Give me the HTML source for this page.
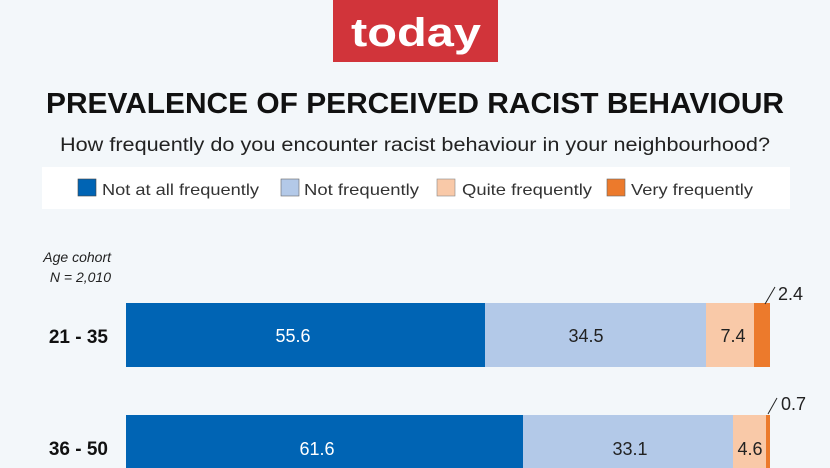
<!DOCTYPE html>
<html><head><meta charset="utf-8"><style>
html,body{margin:0;padding:0;background:#f3f7fa}
svg{display:block}
text{font-family:"Liberation Sans",sans-serif}
</style></head><body>
<svg width="830" height="468" viewBox="0 0 830 468">
<rect width="830" height="468" fill="#f3f7fa"/>
<rect x="333" y="0" width="165" height="62" fill="#d1343a"/>
<text x="416" y="46" text-anchor="middle" font-size="40" font-weight="bold" fill="#fff" textLength="130" lengthAdjust="spacingAndGlyphs">today</text>
<text x="415" y="113" text-anchor="middle" font-size="29" font-weight="bold" fill="#111" textLength="738" lengthAdjust="spacingAndGlyphs">PREVALENCE OF PERCEIVED RACIST BEHAVIOUR</text>
<text x="415" y="151" text-anchor="middle" font-size="19" fill="#222" textLength="710" lengthAdjust="spacingAndGlyphs">How frequently do you encounter racist behaviour in your neighbourhood?</text>
<rect x="42" y="167" width="748" height="42" fill="#fff"/>
<rect x="78" y="179" width="18" height="17" fill="#0064b4" stroke="#444" stroke-width="0.6"/>
<text x="102" y="195" font-size="16" fill="#333" textLength="157" lengthAdjust="spacingAndGlyphs">Not at all frequently</text>
<rect x="281" y="179" width="18" height="17" fill="#b3c9e8" stroke="#666" stroke-width="0.6"/>
<text x="304" y="195" font-size="16" fill="#333" textLength="115" lengthAdjust="spacingAndGlyphs">Not frequently</text>
<rect x="437" y="179" width="18" height="17" fill="#f9c9a8" stroke="#888" stroke-width="0.6"/>
<text x="462" y="195" font-size="16" fill="#333" textLength="130" lengthAdjust="spacingAndGlyphs">Quite frequently</text>
<rect x="607" y="179" width="18" height="17" fill="#ec7a2c" stroke="#666" stroke-width="0.6"/>
<text x="631" y="195" font-size="16" fill="#333" textLength="122" lengthAdjust="spacingAndGlyphs">Very frequently</text>
<text x="111" y="262" text-anchor="end" font-size="14" font-style="italic" fill="#222">Age cohort</text>
<text x="111" y="282" text-anchor="end" font-size="14" font-style="italic" fill="#222">N = 2,010</text>
<text x="108" y="343" text-anchor="end" font-size="19" font-weight="bold" fill="#111">21 - 35</text>
<text x="108" y="455" text-anchor="end" font-size="19" font-weight="bold" fill="#111">36 - 50</text>
<rect x="126" y="303" width="359" height="64" fill="#0064b4"/>
<rect x="485" y="303" width="221" height="64" fill="#b3c9e8"/>
<rect x="706" y="303" width="48" height="64" fill="#f9c9a8"/>
<rect x="754" y="303" width="16" height="64" fill="#ec7a2c"/>
<text x="293" y="342" text-anchor="middle" font-size="18" fill="#fff">55.6</text>
<text x="586" y="342" text-anchor="middle" font-size="18" fill="#222">34.5</text>
<text x="733" y="342" text-anchor="middle" font-size="18" fill="#222">7.4</text>
<line x1="765" y1="304" x2="775" y2="287" stroke="#222" stroke-width="1"/>
<text x="778" y="300" font-size="18" fill="#222">2.4</text>
<rect x="126" y="415" width="397" height="60" fill="#0064b4"/>
<rect x="523" y="415" width="210" height="60" fill="#b3c9e8"/>
<rect x="733" y="415" width="33" height="60" fill="#f9c9a8"/>
<rect x="766" y="415" width="4" height="60" fill="#ec7a2c"/>
<text x="317" y="455" text-anchor="middle" font-size="18" fill="#fff">61.6</text>
<text x="630" y="455" text-anchor="middle" font-size="18" fill="#222">33.1</text>
<text x="750" y="455" text-anchor="middle" font-size="18" fill="#222">4.6</text>
<line x1="768" y1="414" x2="777" y2="398" stroke="#222" stroke-width="1"/>
<text x="781" y="410" font-size="18" fill="#222">0.7</text>
</svg>
</body></html>
